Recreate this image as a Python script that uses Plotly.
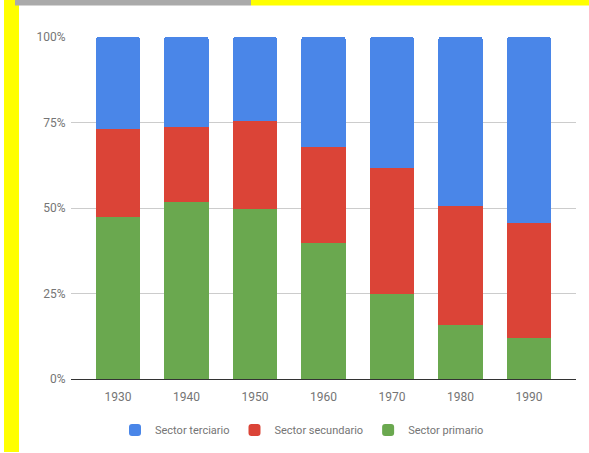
import plotly.graph_objects as go

years = ["1930", "1940", "1950", "1960", "1970", "1980", "1990"]
primario = [47.3, 51.9, 49.8, 39.7, 25.0, 15.9, 12.0]
secundario = [25.8, 21.7, 25.5, 28.1, 36.7, 34.7, 33.5]
terciario = [26.9, 26.4, 24.7, 32.2, 38.3, 49.4, 54.5]
y_ticks = [0, 25, 50, 75, 100]
y_tick_labels = ["0%", "25%", "50%", "75%", "100%"]

W, H = 589, 453
ML, MR, MT, MB = 71, 13, 37, 74
PW, PH = W - ML - MR, H - MT - MB


def px(x):
    return (x - ML) / PW


def py(y):
    return (H - MB - y) / PH


fig = go.Figure()
fig.add_trace(go.Bar(x=years, y=primario, name="Sector primario", marker_color="#6aa84f"))
fig.add_trace(go.Bar(x=years, y=secundario, name="Sector secundario", marker_color="#db4437"))
fig.add_trace(go.Bar(x=years, y=terciario, name="Sector terciario", marker_color="#4a86e8"))

fig.update_traces(marker_line_width=0, hoverinfo="skip")

shapes = [
    dict(type="rect", xref="paper", yref="paper", x0=px(4), x1=px(19), y0=py(452), y1=py(0),
         fillcolor="#ffff00", line_width=0, layer="below"),
    dict(type="rect", xref="paper", yref="paper", x0=px(15), x1=px(251), y0=py(5.5), y1=py(0),
         fillcolor="#aaaaaa", line_width=0, layer="below"),
    dict(type="rect", xref="paper", yref="paper", x0=px(251), x1=px(589), y0=py(5.5), y1=py(0),
         fillcolor="#ffff00", line_width=0, layer="below"),
]

fig.update_layout(
    width=W, height=H,
    margin=dict(l=ML, r=MR, t=MT, b=MB, pad=0, autoexpand=False),
    paper_bgcolor="white", plot_bgcolor="white",
    barmode="stack", bargap=0.35, barcornerradius=3,
    font=dict(family="Roboto, sans-serif", size=12, color="#757575"),
    shapes=shapes,
    showlegend=True,
    legend=dict(orientation="h", traceorder="reversed", x=px(115), xanchor="left",
                y=py(430), yanchor="middle", font=dict(size=11, color="#757575"),
                bgcolor="rgba(0,0,0,0)"),
    xaxis=dict(type="category", range=[-0.685, 6.685], showgrid=False, showline=True,
               linecolor="#333333", linewidth=1, ticks="outside", ticklen=7,
               tickcolor="rgba(0,0,0,0)", tickfont=dict(size=12, color="#757575"),
               fixedrange=True, automargin=False),
    yaxis=dict(range=[0, 100], tickvals=y_ticks, ticktext=y_tick_labels, showgrid=True,
               gridcolor="#cccccc", gridwidth=1, zeroline=False, showline=False,
               ticks="outside", ticklen=2, tickcolor="rgba(0,0,0,0)",
               tickfont=dict(size=12, color="#757575"), fixedrange=True, automargin=False),
)

fig.write_html("out.html", config={"displayModeBar": False})

with open("out.html", "r", encoding="utf-8") as f:
    html = f.read()
html = html.replace("<head>", "<head><style>html,body{margin:0;padding:0;overflow:hidden;}</style>", 1)
with open("out.html", "w", encoding="utf-8") as f:
    f.write(html)
